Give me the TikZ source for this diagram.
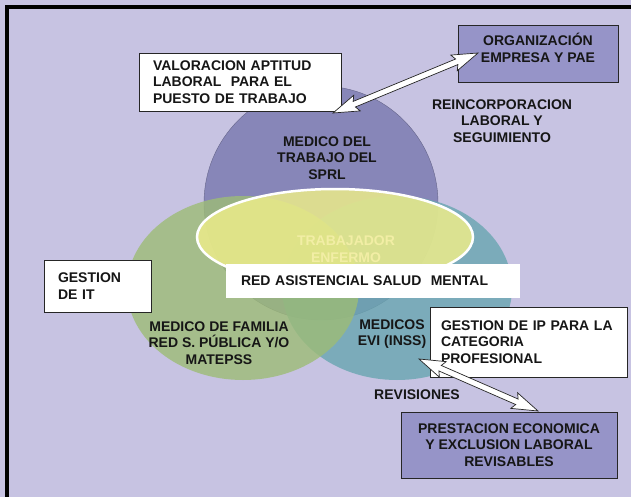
\documentclass[tikz,border=0pt]{standalone}
\usepackage{fontspec}
\setmainfont{Liberation Sans}
\usetikzlibrary{calc}
\definecolor{bglav}{RGB}{199,195,226}
\definecolor{boxlav}{RGB}{150,148,200}
\definecolor{sprlcol}{RGB}{135,134,184}
\definecolor{famcol}{RGB}{157,188,118}
\definecolor{evicol}{RGB}{105,166,176}
\definecolor{trabcol}{RGB}{236,236,138}
\definecolor{trabtext}{RGB}{242,238,165}
\definecolor{ink}{RGB}{22,22,22}
\tikzset{
        every node/.style={font=\fontsize{14}{16.5}\selectfont\bfseries, text=ink},
        whitebox/.style={draw=black!85, line width=0.7pt, fill=white, align=left, inner ysep=0pt},
        purplebox/.style={draw=black!85, line width=0.7pt, fill=boxlav, inner sep=0pt},
        lbl/.style={align=center, inner sep=0pt},
        sprlshape/.style={fill=sprlcol, draw=sprlcol!75!black, line width=0.4pt},
        famshape/.style={fill=famcol, fill opacity=0.8},
        evishape/.style={fill=evicol, fill opacity=0.8},
        trabshape/.style={fill=trabcol, fill opacity=0.85, draw=white, draw opacity=1, line width=2.5pt},
        hollowarrow/.style={fill=white, draw=black!85, line width=0.7pt, line join=miter}
          }
\newcommand{\dblarrow}[2]{%
  \filldraw[hollowarrow] (#1)
    -- ($(#1)!26pt!(#2)!8.5pt!90:(#2)$)
    -- ($(#1)!23pt!(#2)!3pt!90:(#2)$)
    -- ($(#2)!23pt!(#1)!3pt!-90:(#1)$)
    -- ($(#2)!26pt!(#1)!8.5pt!-90:(#1)$)
    -- (#2)
    -- ($(#2)!26pt!(#1)!8.5pt!90:(#1)$)
    -- ($(#2)!23pt!(#1)!3pt!90:(#1)$)
    -- ($(#1)!23pt!(#2)!3pt!-90:(#2)$)
    -- ($(#1)!26pt!(#2)!8.5pt!-90:(#2)$)
    -- cycle;}

\begin{document}
\begin{tikzpicture}[x=1pt,y=-1pt]
        \useasboundingbox (0,0) rectangle (631,497);
        \fill[bglav] (0,0) rectangle (631,497);
        \draw[black, line width=4pt] (7,497) -- (7,7) -- (631,7);

        \filldraw[sprlshape] (321,203) circle [radius=117];
        \fill[evishape] (397,288) ellipse [x radius=115, y radius=92];
        \fill[famshape] (243,288) ellipse [x radius=116, y radius=92];
        \filldraw[trabshape] (335,237) ellipse [x radius=138, y radius=48];

        \node[lbl] (sprl) at (327,158) {MEDICO DEL\\TRABAJO DEL\\SPRL};
        \node[lbl, text=trabtext] (trab) at (346,249) {TRABAJADOR\\ENFERMO};
        \node[lbl] (fam) at (219,343) {MEDICO DE FAMILIA\\RED S. PÚBLICA Y/O\\MATEPSS};
        \node[lbl] (evi) at (392,334) {MEDICOS\\EVI (INSS)};
        \node[lbl] (revis) at (417,395) {REVISIONES};
        \node[lbl] (reinc) at (502,121) {REINCORPORACION\\LABORAL Y\\SEGUIMIENTO};

        \node[whitebox, inner xsep=14pt, text width=174pt, minimum height=58pt] (valbox) at (240,82)
          {VALORACION APTITUD\\LABORAL\ \ PARA EL\\PUESTO DE TRABAJO};
        \node[purplebox, minimum width=160pt, minimum height=57pt] (orgbox) at (538,53.5) {};
        \node[lbl] (orgtext) at (538,48) {ORGANIZACIÓN\\EMPRESA Y PAE};
        \node[whitebox, draw=none, inner xsep=15pt, text width=264pt, minimum height=34pt] (redbox) at (373,281)
          {RED ASISTENCIAL SALUD\ \ MENTAL};
        \node[whitebox, inner xsep=14pt, text width=79pt, minimum height=52pt] (itbox) at (97.5,286)
          {GESTION\\DE IT};
        \node[whitebox, inner xsep=11pt, text width=175pt, minimum height=70pt] (ipbox) at (528.5,342)
          {GESTION DE IP PARA LA\\CATEGORIA\\PROFESIONAL};
        \node[purplebox, lbl, draw=black!85, minimum width=216pt, minimum height=66pt] (presbox) at (509,445)
          {PRESTACION ECONOMICA\\Y EXCLUSION LABORAL\\REVISABLES};

        \coordinate (sprltip) at (333,113);
        \coordinate (orgtip) at (478,53);
        \coordinate (evitip) at (419,359);
        \coordinate (prestip) at (538,411);
        \dblarrow{sprltip}{orgtip}
        \dblarrow{evitip}{prestip}
\end{tikzpicture}
\end{document}
